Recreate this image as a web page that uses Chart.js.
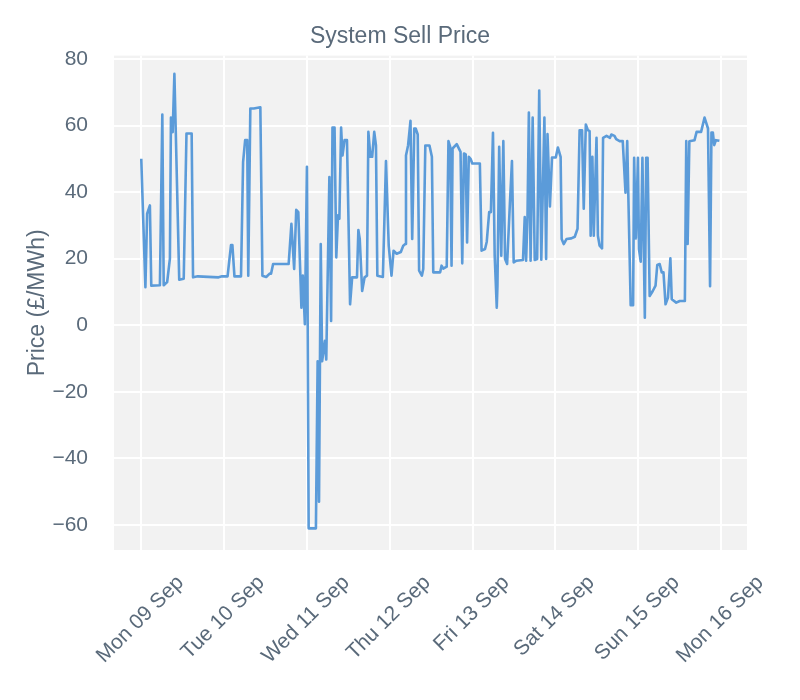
<!DOCTYPE html>
<html>
<head>
<meta charset="utf-8">
<script src="https://cdn.jsdelivr.net/npm/chart.js@4.4.1/dist/chart.umd.min.js"></script>
<style>
  html, body { margin: 0; padding: 0; background: #ffffff; }
  canvas { display: block; }
</style>
</head>
<body>
<canvas id="myChart" width="800" height="700"></canvas>
<script>
// hours since Mon 09 Sep 00:00 at each turning point
const hours = [
  0, 1.2, 1.7, 2.5, 2.9, 5.4, 6.1, 6.5, 7.5, 8.3, 8.6, 9.1, 9.6, 10, 11, 12.3, 13.1, 14.6, 15, 16.4,
  22.4, 23.4, 25, 26, 26.4, 27, 28.9, 29.5, 30.1, 30.7, 31, 31.6, 32.6, 34.5, 35.1, 36.2, 37.2, 37.6, 38.2, 42.7,
  43.5, 44.3, 44.9, 45.5, 46.4, 46.8, 47.4, 48, 48.5, 50.6, 51.1, 51.5, 52, 52.4, 53.2, 53.6, 54.5, 55, 55.4, 56,
  56.5, 57, 57.4, 57.9, 58.3, 58.9, 59.6, 60.5, 61.1, 62.5, 62.9, 63.3, 64, 64.7, 65.4, 65.8, 66.4, 66.9, 67.5, 68,
  68.4, 70, 70.9, 71.7, 72.5, 73.1, 74, 75.2, 75.9, 76.5, 76.7, 77.3, 78, 78.5, 79.1, 79.5, 80.1, 80.5, 81.3, 81.7,
  82.3, 83.5, 84.2, 84.6, 86.6, 87, 87.5, 88.5, 89, 89.5, 89.9, 90.2, 91.4, 92.5, 93, 93.5, 94, 94.4, 94.9, 95.4,
  95.9, 98.1, 98.6, 99.6, 100.1, 100.8, 101.3, 101.9, 102.4, 103, 103.2, 103.7, 104.3, 104.9, 105.4, 106, 106.8, 107.4, 107.9, 108.7,
  110.6, 111.1, 111.5, 111.9, 112.3, 112.8, 113.4, 114, 114.7, 115.3, 115.9, 116.8, 117.3, 117.7, 118.4, 119, 120.1, 120.7, 121.5, 121.8,
  122.4, 123.2, 124.6, 125.6, 126.4, 127, 127.7, 128.2, 128.8, 129.4, 129.9, 130.2, 130.7, 131.1, 131.9, 132.3, 132.8, 133.5, 133.8, 134.8,
  135.8, 136.2, 137.1, 137.6, 138.6, 139.5, 140.3, 140.8, 141.1, 141.8, 142.5, 142.8, 143.3, 143.9, 144.2, 144.7, 145.2, 145.9, 146.3, 146.7,
  147.3, 148.2, 149, 149.5, 150.2, 150.8, 151.3, 151.9, 152.6, 153.3, 153.7, 155, 156, 157.5, 157.9, 158.3, 158.8, 160.3, 160.9, 162.2,
  163.2, 164.2, 164.8, 165.2, 165.6, 166, 166.5, 167.5
];

// system sell price (£/MWh) at those hours
const prices = [
  50, 11.4, 33.5, 36, 11.9, 12, 63.3, 12, 13, 20, 62.4, 58, 75.5, 58, 13.7, 14, 57.6, 57.6, 14.4, 14.7,
  14.4, 14.7, 14.7, 24.1, 24.1, 14.7, 14.7, 49, 55.6, 55.6, 14.9, 65.1, 65.1, 65.5, 14.9, 14.5, 15.5, 15.5, 18.4, 18.4,
  30.5, 16.9, 34.7, 34, 5.3, 14.9, 0.3, 47.6, -61, -61, -10.8, -53, 24.4, -10.8, -4.7, -10.3, 44.5, 1.3, 59.4, 59.4,
  20.4, 33, 32, 59.4, 51, 55.6, 55.6, 6.3, 14.4, 14.4, 28.6, 25.9, 10.3, 14.4, 14.9, 58.1, 50.6, 50.6, 58.1, 54,
  14.9, 14.5, 49.3, 23.9, 14.9, 22.4, 21.5, 22, 23.9, 24.4, 51, 54, 61.4, 25.9, 59.1, 59.1, 57.3, 16.4, 14.9, 16.9,
  54, 54, 50.6, 15.9, 15.9, 17.9, 17, 17.6, 55.3, 53.6, 17.9, 53.1, 54.4, 52.1, 18.6, 51.6, 51.3, 24.9, 50.6, 50,
  48.6, 48.6, 22.4, 22.9, 25.1, 34, 34, 57.8, 20.9, 5.3, 12, 53.6, 20.9, 55.3, 19.9, 18.4, 36.5, 49.3, 18.9, 19.4,
  19.6, 32.5, 19.4, 32.5, 63.9, 19.4, 62.4, 19.6, 19.9, 70.5, 19.7, 62.4, 19.9, 57.4, 35.7, 50.4, 50.4, 53.4, 50.6, 25.9,
  24.4, 25.9, 26.1, 26.6, 29, 58.6, 58.6, 35, 60.3, 58.6, 58.3, 26.9, 50.6, 26.9, 56.3, 26.9, 23.9, 23.1, 56.3, 56.9,
  56.3, 57.3, 56.9, 55.9, 55.3, 55.3, 39.8, 55.3, 39.8, 6, 6, 50.3, 26.1, 50.3, 22.9, 19.1, 50.3, 2.3, 50.3, 50.3,
  8.8, 10.3, 11.9, 18.1, 18.4, 15.9, 15.9, 6.3, 8.3, 20.1, 7.8, 6.8, 7.3, 7.3, 55.3, 24.4, 55.3, 55.6, 58.1, 58.1,
  62.4, 59.1, 11.7, 57.9, 57.9, 54.1, 55.6, 55.4
];

// x tick positions (hours) and their labels
const dayTicks = [0, 24, 48, 72, 96, 120, 144, 168];
const dayLabels = ["Mon 09 Sep", "Tue 10 Sep", "Wed 11 Sep", "Thu 12 Sep", "Fri 13 Sep", "Sat 14 Sep", "Sun 15 Sep", "Mon 16 Sep"];

const textColor = "#5a6a7a";
const lineColor = "#5b9bd9";
const fontFamily = "'Liberation Sans', Arial, sans-serif";

// 描画エリアの背景色
const plotBackground = {
  id: "plotBackground",
  beforeDraw(chart) {
    const { ctx, chartArea } = chart;
    ctx.save();
    ctx.fillStyle = "#f2f2f2";
    ctx.fillRect(chartArea.left, chartArea.top, chartArea.right - chartArea.left, chartArea.bottom - chartArea.top);
    ctx.restore();
  },
};

// x軸ラベルを45度回転して目盛りの中央に描く
const rotatedXLabels = {
  id: "rotatedXLabels",
  afterDraw(chart) {
    const { ctx } = chart;
    const xScale = chart.scales.x;
    const size = 21;
    ctx.save();
    ctx.font = size + "px " + fontFamily;
    ctx.fillStyle = textColor;
    ctx.textAlign = "center";
    ctx.textBaseline = "middle";
    xScale.ticks.forEach((tick, i) => {
      const label = dayLabels[i];
      const w = ctx.measureText(label).width;
      const cx = xScale.getPixelForValue(tick.value) - 1;
      const cy = chart.chartArea.bottom + 22 + (w + size) / (2 * Math.SQRT2);
      ctx.save();
      ctx.translate(cx, cy);
      ctx.rotate(-Math.PI / 4);
      ctx.fillText(label, 0, 0);
      ctx.restore();
    });
    ctx.restore();
  },
};

const config = {
  type: "line",
  data: {
    datasets: [
      {
        data: hours.map((h, i) => ({ x: h, y: prices[i] })),
        borderColor: lineColor,
        borderWidth: 2.6,
        borderJoinStyle: "round",
        tension: 0,
        pointRadius: 0,
        pointHoverRadius: 0,
        fill: false,
      },
    ],
  },
  options: {
    responsive: false,
    animation: false,
    devicePixelRatio: 1,
    layout: {
      padding: 0,
    },
    plugins: {
      legend: { display: false },
      tooltip: { enabled: false },
      title: {
        display: true,
        text: "System Sell Price",
        color: textColor,
        font: { family: fontFamily, size: 23, weight: "normal", lineHeight: 1.2 },
        padding: { top: 23, bottom: 5 },
      },
    },
    scales: {
      x: {
        type: "linear",
        min: -7.9,
        max: 175.5,
        afterBuildTicks: (scale) => {
          scale.ticks = dayTicks.map((v) => ({ value: v }));
        },
        afterFit: (scale) => {
          scale.height = 150;
        },
        grid: { color: "#ffffff", lineWidth: 2, drawTicks: false },
        border: { display: false },
        ticks: { display: false },
      },
      y: {
        min: -67.5,
        max: 81,
        afterFit: (scale) => {
          scale.width = 114;
        },
        grid: { color: "#ffffff", lineWidth: 2, drawTicks: false },
        border: { display: false },
        ticks: {
          stepSize: 20,
          includeBounds: false,
          padding: 26,
          color: textColor,
          font: { family: fontFamily, size: 21 },
          callback: (v) => String(v).replace("-", "\u2212"),
        },
        title: {
          display: true,
          text: "Price (£/MWh)",
          color: textColor,
          font: { family: fontFamily, size: 23, lineHeight: 1.2 },
          padding: { top: 24, bottom: 0 },
        },
      },
      // 右側の余白用（何も描かない）
      yRight: {
        position: "right",
        min: -67.5,
        max: 81,
        afterFit: (scale) => {
          scale.width = 53;
        },
        grid: { display: false, drawTicks: false },
        border: { display: false },
        ticks: { display: false },
      },
    },
  },
  plugins: [plotBackground, rotatedXLabels],
};

window.onload = function () {
  const ctx = document.getElementById("myChart").getContext("2d");
  window.myLine = new Chart(ctx, config);
};
</script>
</body>
</html>
